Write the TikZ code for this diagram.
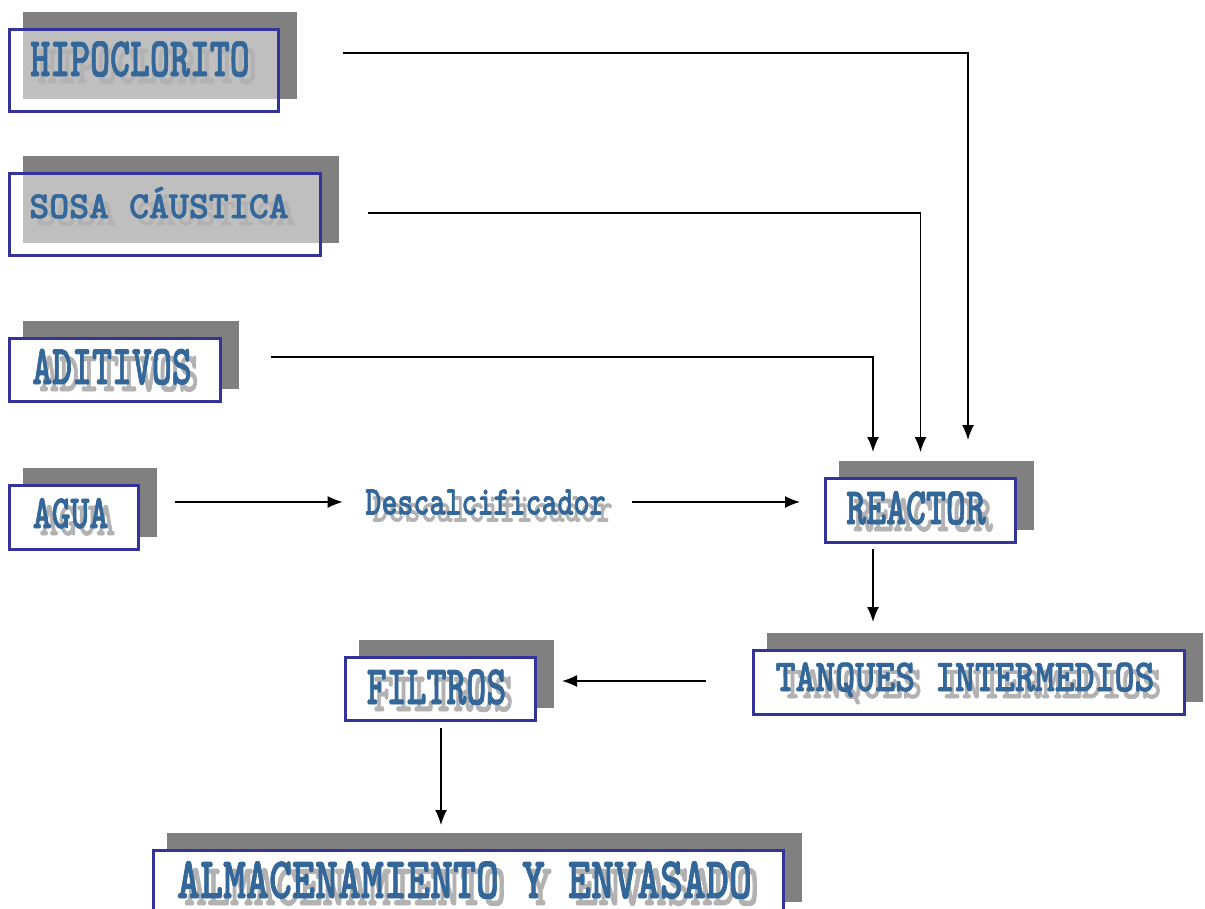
\documentclass[tikz,border=0pt]{standalone}
\usepackage{fontspec}
\usetikzlibrary{arrows.meta,shadows,calc}

\newfontfamily\maquina{lmmonolt10-bold.otf}[FakeBold=1.6]

\definecolor{azulborde}{HTML}{333399}
\definecolor{azultexto}{HTML}{336699}
\definecolor{grisfondo}{HTML}{808080}
\definecolor{gristexto}{HTML}{B2B2B2}

\tikzset{
  caja/.style={draw=azulborde, line width=3pt, fill=white, inner sep=0pt,
    drop shadow={shadow xshift=15.5pt, shadow yshift=15.5pt,
      fill=grisfondo, draw=grisfondo, line width=5pt, opacity=1}},
  cajaclara/.style={caja, fill opacity=0.5},
  rotulotxt/.style={anchor=base, inner sep=0pt},
  flecha/.style={line width=1.5pt, -{Latex[length=15pt,width=12pt]}},
}

% texto con sombra gris: nombre, posicion, tamano, escala vertical, texto
\newcommand{\rotulo}[5]{%
  \node[rotulotxt, text=gristexto, font=\maquina\fontsize{#3}{#3}\selectfont]
    (#1-sombra) at ($#2+(7,7)$) {\scalebox{1}[#4]{#5}};
  \node[rotulotxt, text=azultexto, font=\maquina\fontsize{#3}{#3}\selectfont]
    (#1) at #2 {\scalebox{1}[#4]{#5}};
}

\begin{document}
\begin{tikzpicture}[x=1pt, y=-1pt]
\useasboundingbox (0,0) rectangle (1205,908);

% Cajas
\node[cajaclara, minimum width=269pt, minimum height=82pt] (hipoclorito) at (144,70.5) {};
\node[cajaclara, minimum width=311pt, minimum height=82pt] (sosa) at (165,214.5) {};
\node[caja, minimum width=211pt, minimum height=63pt] (aditivos) at (115,370) {};
\node[caja, minimum width=129pt, minimum height=64pt] (agua) at (74,517.5) {};
\node[caja, minimum width=190pt, minimum height=64pt] (reactor) at (920.5,510.5) {};
\node[caja, minimum width=431pt, minimum height=64pt] (tanques) at (969,682.5) {};
\node[caja, minimum width=190pt, minimum height=63pt] (filtros) at (440.5,689) {};
\node[caja, minimum width=630pt, minimum height=64pt] (almacen) at (468.5,882.5) {};

% Textos
\rotulo{hipoclorito-txt}{(140,76)}{38}{1.46}{HIPOCLORITO}
\rotulo{sosa-txt}{(159,218)}{38}{1.0}{SOSA CÁUSTICA}
\rotulo{aditivos-txt}{(112,384)}{38}{1.48}{ADITIVOS}
\rotulo{agua-txt}{(70.5,528)}{36}{1.32}{AGUA}
\rotulo{descalcificador}{(485.5,514.5)}{30.5}{1.34}{Descalcificador}
\rotulo{reactor-txt}{(916,524)}{38}{1.38}{REACTOR}
\rotulo{tanques-txt}{(965,691)}{38}{1.2}{TANQUES INTERMEDIOS}
\rotulo{filtros-txt}{(436.5,704)}{38}{1.46}{FILTROS}
\rotulo{almacen-txt}{(464.5,898)}{43.8}{1.34}{ALMACENAMIENTO Y ENVASADO}

% Flechas
\draw[flecha] ([shift={(63pt,17.5pt)}]hipoclorito.east) -| ([shift={(47.5pt,37pt)}]reactor.north);
\draw[flecha] ([shift={(46pt,1.5pt)}]sosa.east) -| ([yshift=25pt]reactor.north);
\draw[flecha] ([shift={(49pt,13pt)}]aditivos.east) -| ([shift={(-47.5pt,25pt)}]reactor.north);
\draw[flecha] ([shift={(35pt,15.5pt)}]agua.east) coordinate (a1)
  -- ([xshift=-22.5pt]a1 -| descalcificador.west);
\draw[flecha] ([xshift=26.5pt]a1 -| descalcificador.east) -- ([xshift=-24pt]a1 -| reactor.west);
\draw[flecha] ([shift={(-47.5pt,-5pt)}]reactor.south) -- ([shift={(-96pt,27pt)}]tanques.north);
\draw[flecha] ([shift={(-46pt,1.5pt)}]tanques.west) -- ([shift={(25pt,8pt)}]filtros.east);
\draw[flecha] ([shift={(0.5pt,-6pt)}]filtros.south) -- ([shift={(-27.5pt,24pt)}]almacen.north);
\end{tikzpicture}
\end{document}
